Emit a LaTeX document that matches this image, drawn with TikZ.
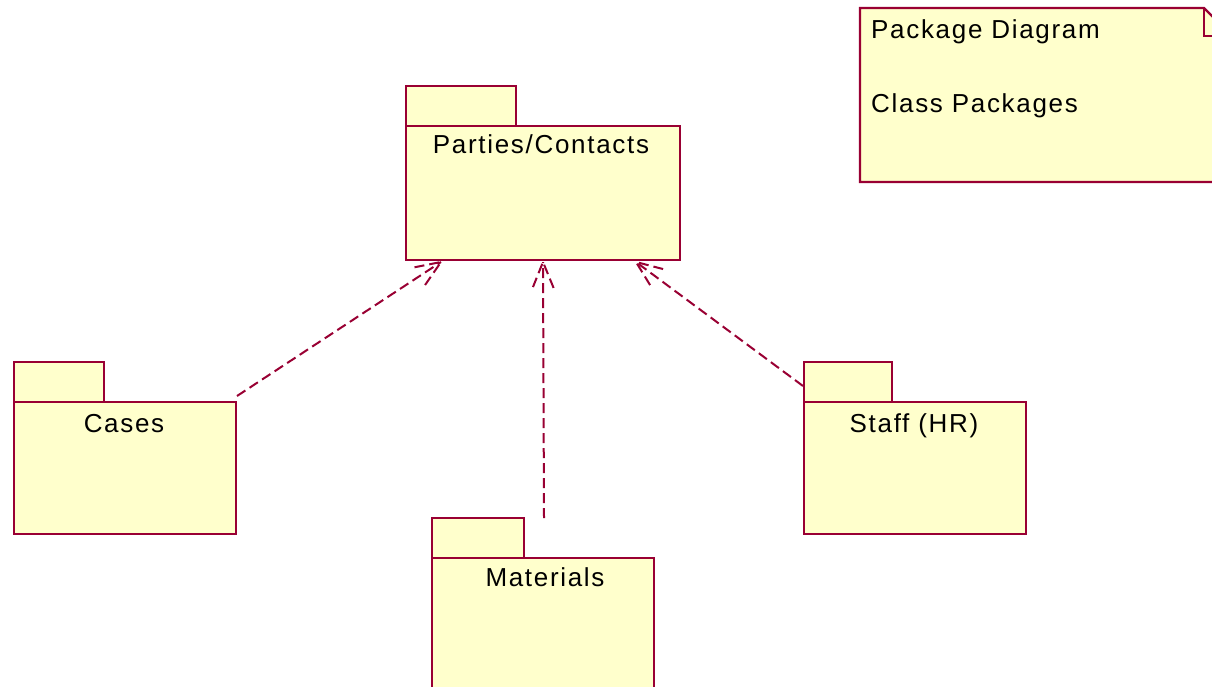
\documentclass[tikz,border=0pt]{standalone}
\usepackage{fontspec}
\newfontfamily\uml[LetterSpace=6.5]{Liberation Sans}
\usetikzlibrary{calc}
\definecolor{umlred}{RGB}{153,0,51}
\definecolor{umlfill}{RGB}{255,255,204}
\begin{document}
\begin{tikzpicture}[x=1pt,y=-1pt,
  pkg/.style={draw=umlred, fill=umlfill, line width=2.3pt, rectangle, inner sep=0pt, anchor=north west},
  lbl/.style={font=\uml\fontsize{26}{30}\selectfont, text=black, inner sep=0pt, anchor=base},
  dep/.style={draw=umlred, line width=2pt, dash pattern=on 10pt off 5pt, line cap=butt}]
\useasboundingbox (0,0) rectangle (1212,686);
\clip (0,0) rectangle (1212,686);

% Parties/Contacts
\node[pkg, minimum width=110pt, minimum height=40pt] (ptab) at (405,85) {};
\node[pkg, minimum width=274pt, minimum height=134pt] (parties) at (405,125) {};
\node[lbl] (plbl) at (541,153) {Parties/Contacts};

% Cases
\node[pkg, minimum width=90pt, minimum height=40pt] (ctab) at (13,361) {};
\node[pkg, minimum width=222pt, minimum height=132pt] (cases) at (13,401) {};
\node[lbl] (clbl) at (124,432) {Cases};

% Materials
\node[pkg, minimum width=92pt, minimum height=40pt] (mtab) at (431,517) {};
\node[pkg, minimum width=222pt, minimum height=140pt] (materials) at (431,557) {};
\node[lbl] (mlbl) at (545,586) {Materials};

% Staff (HR)
\node[pkg, minimum width=88pt, minimum height=40pt] (stab) at (803,361) {};
\node[pkg, minimum width=222pt, minimum height=132pt] (staff) at (803,401) {};
\node[lbl] (slbl) at (914,432) {Staff (HR)};

% Note
\draw[draw=umlred, fill=umlfill, line width=2.3pt] (860,8) -- (1204,8) -- (1232,36) -- (1232,182) -- (860,182) -- cycle;
\draw[draw=umlred, line width=2.3pt] (1204,8) -- (1204,36) -- (1232,36);
\node[lbl, anchor=base west] (n1) at (871,38) {Package Diagram};
\node[lbl, anchor=base west] (n2) at (871,112) {Class Packages};

% dependency end points
\coordinate (cs) at (237,396);
\coordinate (ct) at (441,262);
\coordinate (ms) at (544,518);
\coordinate (mt) at (543,262);
\coordinate (ss) at (803,386);
\coordinate (st) at (636,262);

\foreach \s/\t in {cs/ct, ms/mt, ss/st}{
  \draw[dep] (\s) -- (\t);
  \draw[dep] ($(\t)!28pt!22:(\s)$) -- (\t) -- ($(\t)!28pt!-22:(\s)$);
}
\end{tikzpicture}
\end{document}
